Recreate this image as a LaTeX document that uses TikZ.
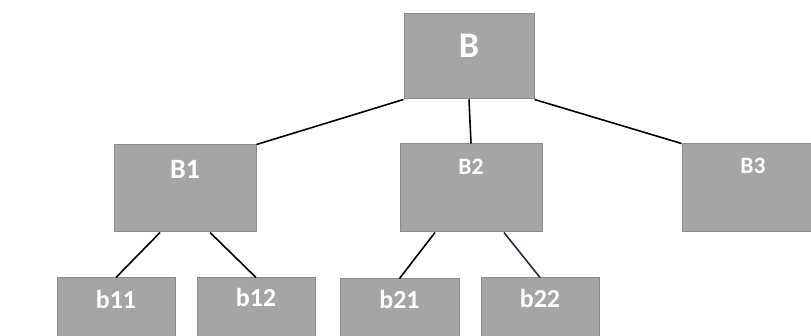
\documentclass[tikz,border=0pt]{standalone}
\usepackage{fontspec}
\setmainfont{Carlito}
\usepackage{tikz}
\usetikzlibrary{calc}
\definecolor{boxgray}{RGB}{165,165,165}
\definecolor{boxedge}{RGB}{140,140,140}
\definecolor{navyline}{RGB}{31,42,68}

\begin{document}
\begin{tikzpicture}[x=1pt, y=-1pt,
    box/.style={draw=boxedge, fill=boxgray, line width=1pt, inner sep=0pt},
    lab/.style={text=white, anchor=base, inner sep=0pt, font=\bfseries},
    link/.style={line width=1.6pt}]
    \useasboundingbox (0,0) rectangle (811,336);
    \clip (0,0) rectangle (811,336);

    \coordinate (PB) at (469,56.5);
    \coordinate (PB1) at (185,188.5);
    \coordinate (PB2) at (471,188);
    \coordinate (PB3) at (753,188);
    \coordinate (Pb11) at (116,313);
    \coordinate (Pb12) at (256,313);
    \coordinate (Pb21) at (399.5,314);
    \coordinate (Pb22) at (540,313);

    % Boxes
    \node[box, minimum width=130pt, minimum height=85pt] (B) at (PB) {};
    \node[box, minimum width=142pt, minimum height=87pt] (B1) at (PB1) {};
    \node[box, minimum width=142pt, minimum height=88pt] (B2) at (PB2) {};
    \node[box, minimum width=142pt, minimum height=88pt] (B3) at (PB3) {};
    \node[box, minimum width=118pt, minimum height=70pt] (b11) at (Pb11) {};
    \node[box, minimum width=118pt, minimum height=70pt] (b12) at (Pb12) {};
    \node[box, minimum width=119pt, minimum height=70pt] (b21) at (Pb21) {};
    \node[box, minimum width=118pt, minimum height=70pt] (b22) at (Pb22) {};

    % Connections
    \draw[link] (B.south west) -- (B1.north east);
    \draw[link] (B.south) -- (B2.north);
    \draw[link] (B.south east) -- (B3.north west);
    \draw[link] ([xshift=-25pt]B1.south) -- (b11.north);
    \draw[link] ([xshift=25pt]B1.south) -- (b12.north);
    \draw[link] ([xshift=-36pt]B2.south) -- (b21.north);
    \draw[link, navyline] ([xshift=33pt]B2.south) -- (b22.north);

    % Labels
    \node[lab, font=\fontsize{36}{40}\selectfont\bfseries] (tB) at ([yshift=-44pt]B.north) {B};
    \node[lab, font=\fontsize{28}{32}\selectfont\bfseries] (tB1) at ([yshift=-34pt]B1.north) {B1};
    \node[lab, font=\fontsize{23.5}{27}\selectfont\bfseries] (tB2) at ([yshift=-31pt]B2.north) {B2};
    \node[lab, font=\fontsize{23.5}{27}\selectfont\bfseries] (tB3) at ([yshift=-30pt]B3.north) {B3};
    \node[lab, font=\fontsize{26}{30}\selectfont\bfseries] (tb11) at ([yshift=-31pt]b11.north) {b11};
    \node[lab, font=\fontsize{26}{30}\selectfont\bfseries] (tb12) at ([yshift=-29pt]b12.north) {b12};
    \node[lab, font=\fontsize{26}{30}\selectfont\bfseries] (tb21) at ([yshift=-30pt]b21.north) {b21};
    \node[lab, font=\fontsize{26}{30}\selectfont\bfseries] (tb22) at ([yshift=-30pt]b22.north) {b22};

\end{tikzpicture}
\end{document}
